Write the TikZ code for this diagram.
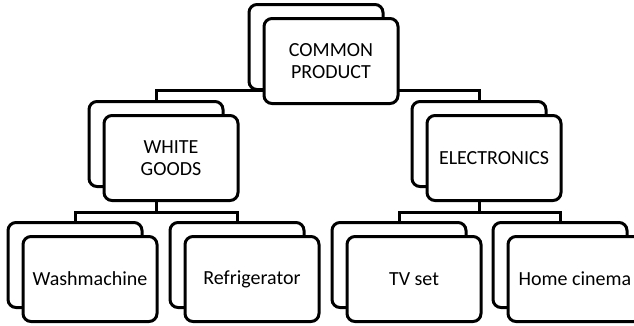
\documentclass[tikz,border=0pt]{standalone}
\usepackage{fontspec}
\setmainfont{Carlito}
\begin{document}
\begin{tikzpicture}[x=1pt,y=-1pt,
  card/.style={draw, line width=3pt, rounded corners=8pt, fill=white,
    minimum width=134pt, minimum height=85pt, inner sep=0pt, align=center,
    font=\fontsize{20}{22}\selectfont},
  link/.style={line width=3pt}]
\useasboundingbox (0,0) rectangle (634,325);

% junction points of the tree connectors
\coordinate (j1) at (316,90);
\coordinate (j2) at (156,212);
\coordinate (j3) at (479,212);

% connectors (drawn first, boxes cover them)
\draw[link] (316,88) -- (j1);
\draw[link] (156,101) |- (j1) -| (479,101);
\draw[link] (156,186) -- (j2);
\draw[link] (75,223) |- (j2) -| (237,223);
\draw[link] (479,186) -- (j3);
\draw[link] (399,223) |- (j3) -| (560,223);

% back cards
\node[card] (topB)   at (316,47)  {};
\node[card] (whiteB) at (156,144) {};
\node[card] (elecB)  at (479,144) {};
\node[card] (washB)  at (75,265)  {};
\node[card] (refrB)  at (237,265) {};
\node[card] (tvB)    at (399,265) {};
\node[card] (homeB)  at (560,265) {};

% front cards with labels
\node[card] (top)   at (331,61)  {COMMON\\PRODUCT};
\node[card] (white) at (171,158) {WHITE\\GOODS};
\node[card] (elec)  at (494,158) {ELECTRONICS};
\node[card] (wash)  at (90,279)  {Washmachine};
\node[card] (refr)  at (252,279) {Refrigerator};
\node[card] (tv)    at (414,279) {TV set};
\node[card] (home)  at (575,279) {Home cinema};
\end{tikzpicture}
\end{document}
